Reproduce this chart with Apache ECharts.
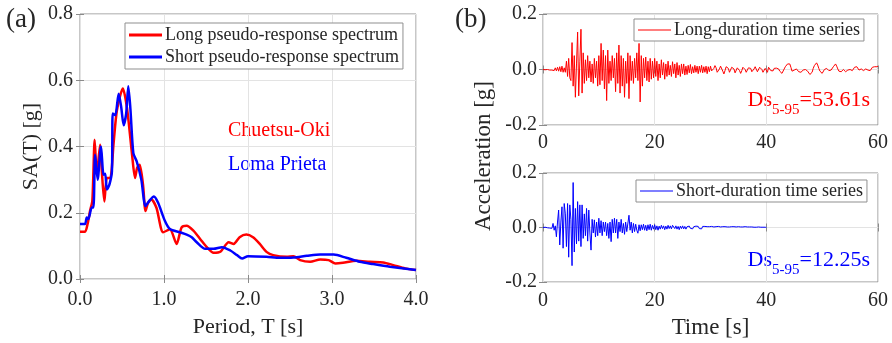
<!DOCTYPE html>
<html>
<head>
<meta charset="utf-8">
<script src="https://cdn.jsdelivr.net/npm/echarts@6/dist/echarts.min.js"></script>
<style>
  html, body { margin: 0; padding: 0; background: #fff; }
  #chart { width: 892px; height: 343px; }
</style>
</head>
<body>
<div id="chart"></div>
<script>
// (a) pseudo-response spectra: period [s] and SA [g]
const longT  = [0, 0.06, 0.09, 0.12, 0.147, 0.175, 0.2, 0.24, 0.26, 0.29, 0.32, 0.36, 0.4, 0.44, 0.51, 0.56, 0.62, 0.655, 0.68, 0.71, 0.75, 0.78, 0.81, 0.85, 0.91, 0.99, 1.07, 1.15, 1.21, 1.27, 1.35, 1.43, 1.51, 1.59, 1.67, 1.77, 1.83, 1.9, 1.98, 2.06, 2.14, 2.22, 2.3, 2.46, 2.54, 2.62, 2.74, 2.86, 2.96, 3.04, 3.13, 3.29, 3.45, 3.61, 3.73, 3.87, 4.0];
const longSA = [0.143, 0.143, 0.166, 0.206, 0.236, 0.42, 0.315, 0.405, 0.325, 0.234, 0.305, 0.305, 0.41, 0.51, 0.575, 0.515, 0.375, 0.305, 0.335, 0.345, 0.285, 0.205, 0.23, 0.24, 0.215, 0.141, 0.15, 0.106, 0.156, 0.161, 0.146, 0.121, 0.096, 0.079, 0.082, 0.111, 0.106, 0.126, 0.134, 0.126, 0.106, 0.082, 0.072, 0.067, 0.069, 0.057, 0.052, 0.059, 0.057, 0.047, 0.049, 0.055, 0.052, 0.05, 0.042, 0.032, 0.027];

const shortT  = [0, 0.06, 0.08, 0.1, 0.14, 0.16, 0.18, 0.21, 0.25, 0.28, 0.3, 0.32, 0.35, 0.38, 0.39, 0.42, 0.46, 0.49, 0.52, 0.55, 0.575, 0.6, 0.635, 0.675, 0.73, 0.78, 0.825, 0.88, 0.93, 1.01, 1.07, 1.19, 1.27, 1.33, 1.39, 1.49, 1.59, 1.69, 1.79, 1.87, 1.93, 2.0, 2.22, 2.38, 2.54, 2.7, 2.86, 3.02, 3.17, 3.33, 3.49, 3.69, 4.0];
const shortSA = [0.166, 0.166, 0.186, 0.181, 0.216, 0.216, 0.375, 0.30, 0.40, 0.315, 0.318, 0.27, 0.285, 0.325, 0.50, 0.494, 0.559, 0.52, 0.464, 0.50, 0.582, 0.514, 0.38, 0.355, 0.30, 0.22, 0.236, 0.249, 0.23, 0.176, 0.151, 0.141, 0.134, 0.126, 0.111, 0.091, 0.091, 0.096, 0.086, 0.072, 0.062, 0.069, 0.067, 0.064, 0.065, 0.07, 0.074, 0.074, 0.064, 0.052, 0.045, 0.037, 0.027];

// (b) acceleration records [g], sampled every 0.2 s
const sampleDt = 0.2;
const longAcc = [
  0, 0.001, -0.001, 0.001, 0,
  0.002, -0.002, 0.003, -0.002, 0.004,
  -0.004, 0.006, -0.005, 0.008, -0.006,
  0.01, -0.008, 0.012, -0.01, 0.006,
  -0.01, 0.03, -0.025, 0.04, -0.03,
  -0.04, 0.097, -0.06, 0.05, -0.1,
  0.02, 0.135, -0.095, 0.03, 0.145,
  -0.085, 0.06, -0.05, 0.035, -0.04,
  0.05, -0.03, 0.03, -0.045, 0.02,
  -0.05, 0.04, -0.03, 0.03, -0.06,
  0.05, -0.055, 0.094, -0.04, 0.07,
  -0.07, 0.05, -0.112, 0.07, -0.05,
  0.03, -0.04, 0.05, -0.03, 0.04,
  -0.08, 0.06, -0.05, 0.088, -0.085,
  0.05, -0.06, 0.04, -0.1, 0.03,
  -0.05, 0.06, -0.105, 0.05, -0.04,
  0.03, -0.05, 0.04, -0.03, 0.06,
  -0.04, 0.094, -0.117, 0.05, -0.06,
  0.04, -0.03, 0.045, -0.04, 0.03,
  -0.045, 0.04, -0.035, 0.03, -0.03,
  0.04, -0.025, 0.03, -0.04, 0.02,
  -0.03, 0.035, -0.02, 0.025, -0.035,
  0.02, -0.025, 0.03, -0.02, 0.015,
  -0.025, 0.028, -0.015, 0.02, -0.03,
  0.025, -0.02, 0.015, -0.025, 0.02,
  -0.015, 0.02, -0.02, 0.012, -0.018,
  0.015, -0.012, 0.018, -0.015, 0.01,
  -0.012, 0.015, -0.01, 0.012, -0.015,
  0.012, -0.01, 0.015, -0.012, 0.01,
  -0.01, 0.012, -0.015, 0.01, -0.008,
  0.012, -0.005, -0.012, 0.004, 0.014,
  0.006, -0.01, -0.014, 0.002, 0.012,
  0.008, -0.006, -0.016, -0.004, 0.01,
  0.016, 0.004, -0.01, -0.006, 0.008,
  0.014, 0.002, -0.012, -0.008, 0.006,
  0.01, -0.004, -0.014, -0.004, 0.008,
  0.012, 0.0, -0.01, -0.006, 0.006,
  0.012, 0.004, -0.008, -0.012, 0.002,
  0.01, 0.004, -0.008, -0.004, 0.008,
  0.012, 0.0, -0.01, -0.006, 0.004,
  0.005, -0.01, 0.008, 0.002, -0.004,
  0.0, -0.005, 0.004, 0.008, 0.005,
  0.01, 0.002, -0.006, -0.012, -0.014,
  -0.008, 0.002, 0.01, 0.016, 0.02,
  0.015, 0.02, 0.008, -0.006, -0.008,
  -0.002, 0.004, 0.002, -0.004, -0.008,
  -0.006, -0.01, -0.008, -0.002, 0.002,
  0.0, -0.004, -0.006, -0.012, -0.018,
  -0.022, -0.01, 0.004, 0.014, 0.02,
  0.024, 0.016, 0.004, -0.006, -0.012,
  -0.014, -0.008, 0.0, 0.006, 0.004,
  0.0, -0.004, -0.006, -0.002, 0.004,
  0.01, 0.016, 0.02, 0.012, 0.002,
  -0.006, -0.01, -0.008, -0.004, 0.0,
  -0.004, -0.008, -0.006, -0.002, 0.002,
  0.0, -0.002, -0.004, 0.002, 0.008,
  0.012, 0.01, 0.004, -0.002, 0.0,
  0.002, -0.002, -0.004, 0.0, 0.002,
  0.004, -0.002, -0.006, -0.004, 0.002,
  0.008, 0.014, 0.01, 0.006, 0.01,
  0.012
];
const shortAcc = [
  0, 0, 0.001, 0, -0.001,
  0.002, -0.002, 0.004, -0.003, 0.015,
  -0.01, 0.006, -0.034, 0.02, 0.064,
  -0.064, 0.02, 0.076, -0.076, 0.088,
  0.05, -0.07, 0.088, -0.109, 0.083,
  0.03, -0.14, 0.165, -0.09, 0.07,
  -0.06, 0.095, -0.05, 0.083, -0.07,
  0.083, -0.04, 0.05, -0.03, 0.07,
  -0.05, 0.064, -0.02, -0.083, 0.03,
  -0.02, 0.028, -0.035, 0.02, -0.03,
  0.034, -0.02, 0.025, -0.03, 0.02,
  -0.015, 0.02, -0.03, 0.015, -0.04,
  0.02, -0.052, 0.03, -0.02, 0.034,
  -0.02, 0.03, -0.04, 0.02, -0.015,
  0.03, -0.02, 0.015, -0.025, 0.02,
  -0.015, -0.01, 0.045, -0.01, 0.02,
  -0.02, 0.015, -0.015, 0.012, -0.01,
  -0.021, 0.01, -0.012, 0.01, -0.008,
  0.012, -0.01, 0.008, -0.012, 0.01,
  -0.008, 0.012, -0.01, 0.008, -0.006,
  0.01, -0.008, 0.006, -0.01, 0.005,
  -0.006, 0.008, -0.004, 0.006, -0.008,
  0.005, -0.006, 0.008, -0.004, 0.006,
  -0.005, 0.008, 0.012, -0.004, 0.006,
  -0.006, 0.004, -0.008, 0.005, -0.004,
  0.006, -0.005, 0.004, -0.006, 0.003,
  -0.004, 0.005, -0.003, 0.004, -0.005,
  0.003, -0.004, 0.005, -0.002, 0.004,
  -0.004, 0.003, -0.005, 0.004, -0.003,
  0.004, -0.002, 0.003, -0.004, 0.003,
  -0.003, 0.004, -0.003, 0.002, -0.004,
  0.003, -0.002, 0.004, -0.003, 0.002,
  -0.003, 0.003, -0.002, 0.003, -0.004,
  0.002, -0.003, 0.002, -0.002, 0.003,
  -0.002, 0.003, -0.004, 0.002, -0.002,
  0.003, -0.002, 0.002, -0.003, 0.002,
  -0.002, 0.003, -0.002, 0.002, -0.002,
  0.002, -0.001, 0.002, -0.002, 0.001,
  -0.002, 0.001, -0.001, 0.002, -0.001,
  0.001, -0.001, 0.001, -0.001, 0.001,
  0
];

const spectrumLabels = ['Long pseudo-response spectrum', 'Short pseudo-response spectrum'];
const seriesLabels = ['Long-duration time series', 'Short-duration time series'];
const eventNames = ['Chuetsu-Oki', 'Loma Prieta'];
const durations = ['53.61s', '12.25s'];

const RED = '#ff0000';
const BLUE = '#0000ff';
const FONT = '"Liberation Serif", "Times New Roman", serif';
const TXT = '#262626';
const TICK_SIZE = 20;
const TITLE_SIZE = 22;

const pairs = (xs, ys) => xs.map((x, i) => [x, ys[i]]);
const timed = (vals) => vals.map((v, i) => [+(i * sampleDt).toFixed(2), v]);

const gridLine = { show: true, lineStyle: { color: '#e3e3e3', width: 1 } };
const tick = { show: true, inside: true, length: 4, lineStyle: { color: '#8a8a8a' } };
const noLine = { show: false };

function tickLabel(margin, formatter) {
  return { color: TXT, fontFamily: FONT, fontSize: TICK_SIZE, margin, formatter };
}
function valueAxis(extra) {
  return Object.assign({
    type: 'value',
    axisLine: noLine,
    axisTick: tick,
    splitLine: gridLine,
    nameTextStyle: { color: TXT, fontFamily: FONT, fontSize: TITLE_SIZE }
  }, extra);
}
function mirrorAxis(extra) {
  return Object.assign({
    type: 'value',
    axisLine: noLine,
    axisTick: tick,
    splitLine: { show: false },
    axisLabel: { show: false }
  }, extra);
}

const grids = [
  { left: 80, top: 14, width: 336, height: 268 },
  { left: 543, top: 14, width: 335, height: 111 },
  { left: 543, top: 173, width: 335, height: 109 }
].map(g => Object.assign(g, { show: true, borderColor: '#8f8f8f', borderWidth: 1, backgroundColor: 'transparent' }));

const fmt1 = v => v.toFixed(1);
const fmt0 = v => String(Math.round(v));

const xAxis = [
  valueAxis({ gridIndex: 0, min: 0, max: 4, interval: 1, name: 'Period, T [s]', nameLocation: 'middle', nameGap: 37,
    axisLabel: tickLabel(11, fmt1) }),
  valueAxis({ gridIndex: 1, min: 0, max: 60, interval: 20, axisLabel: tickLabel(8, fmt0) }),
  valueAxis({ gridIndex: 2, min: 0, max: 60, interval: 20, name: 'Time [s]', nameLocation: 'middle', nameGap: 34,
    axisLabel: tickLabel(9, fmt0), nameTextStyle: { color: TXT, fontFamily: FONT, fontSize: 23 } }),
  mirrorAxis({ gridIndex: 0, position: 'top', min: 0, max: 4, interval: 1 }),
  mirrorAxis({ gridIndex: 1, position: 'top', min: 0, max: 60, interval: 20 }),
  mirrorAxis({ gridIndex: 2, position: 'top', min: 0, max: 60, interval: 20 })
];
const yAxis = [
  valueAxis({ gridIndex: 0, min: 0, max: 0.8, interval: 0.2, name: 'SA(T) [g]', nameLocation: 'middle', nameGap: 38,
    axisLabel: tickLabel(7, fmt1) }),
  valueAxis({ gridIndex: 1, min: -0.2, max: 0.2, interval: 0.2, axisLabel: tickLabel(6, fmt1) }),
  valueAxis({ gridIndex: 2, min: -0.2, max: 0.2, interval: 0.2, axisLabel: tickLabel(6, fmt1) }),
  mirrorAxis({ gridIndex: 0, position: 'right', min: 0, max: 0.8, interval: 0.2 }),
  mirrorAxis({ gridIndex: 1, position: 'right', min: -0.2, max: 0.2, interval: 0.2 }),
  mirrorAxis({ gridIndex: 2, position: 'right', min: -0.2, max: 0.2, interval: 0.2 })
];

function lineSeries(name, idx, data, color, width, smooth) {
  return {
    name, type: 'line', xAxisIndex: idx, yAxisIndex: idx, data,
    symbol: 'none', smooth: smooth, animation: false, clip: true,
    lineStyle: { color, width }, itemStyle: { color }
  };
}

const series = [
  lineSeries(spectrumLabels[0], 0, pairs(longT, longSA), RED, 2.5, 0.25),
  lineSeries(spectrumLabels[1], 0, pairs(shortT, shortSA), BLUE, 2.5, 0.25),
  lineSeries(seriesLabels[0], 1, timed(longAcc), RED, 1, false),
  lineSeries(seriesLabels[1], 2, timed(shortAcc), BLUE, 1, false)
];

const legendBase = {
  orient: 'vertical', backgroundColor: '#fff', borderColor: '#8f8f8f', borderWidth: 1, borderRadius: 0,
  itemWidth: 33, icon: 'rect', itemGap: 4, selectedMode: false, padding: [3, 4, 3, 4],
  textStyle: { color: TXT, fontFamily: FONT, fontSize: 18, padding: [0, 0, 0, -2] }
};
const legend = [
  Object.assign({}, legendBase, { data: spectrumLabels, left: 125, top: 23, itemHeight: 3 }),
  Object.assign({}, legendBase, { data: [seriesLabels[0]], left: 634, top: 19, itemHeight: 1, padding: [2, 4, 2, 4] }),
  Object.assign({}, legendBase, { data: [seriesLabels[1]], left: 636, top: 180, itemHeight: 1, padding: [2, 4, 2, 4] })
];

function durationLabel(value, color, top) {
  return {
    type: 'text', right: 22, top,
    style: {
      text: '{m|Ds}{s|5-95}{m|=' + value + '}',
      fill: color, font: '22px ' + FONT,
      rich: {
        m: { fontFamily: FONT, fontSize: 22, fill: color, verticalAlign: 'top', lineHeight: 24 },
        s: { fontFamily: FONT, fontSize: 15, fill: color, verticalAlign: 'top', lineHeight: 16, padding: [14, 0, 0, 0] }
      }
    }
  };
}

const graphic = [
  { type: 'text', left: 6, top: 6, style: { text: '(a)', fill: TXT, font: '27px ' + FONT } },
  { type: 'text', left: 455, top: 6, style: { text: '(b)', fill: TXT, font: '27px ' + FONT } },
  { type: 'text', left: 228, top: 121, style: { text: eventNames[0], fill: RED, font: '20px ' + FONT } },
  { type: 'text', left: 228, top: 155, style: { text: eventNames[1], fill: BLUE, font: '20px ' + FONT } },
  { type: 'text', x: 484, y: 156, rotation: Math.PI / 2,
    style: { text: 'Acceleration [g]', fill: TXT, font: '23px ' + FONT, align: 'center', verticalAlign: 'middle' } },
  durationLabel(durations[0], RED, 89),
  durationLabel(durations[1], BLUE, 249)
];

const chart = echarts.init(document.getElementById('chart'), null, { renderer: 'canvas' });
chart.setOption({
  animation: false,
  backgroundColor: '#fff',
  grid: grids, xAxis, yAxis, series, legend, graphic
});
</script>
</body>
</html>
